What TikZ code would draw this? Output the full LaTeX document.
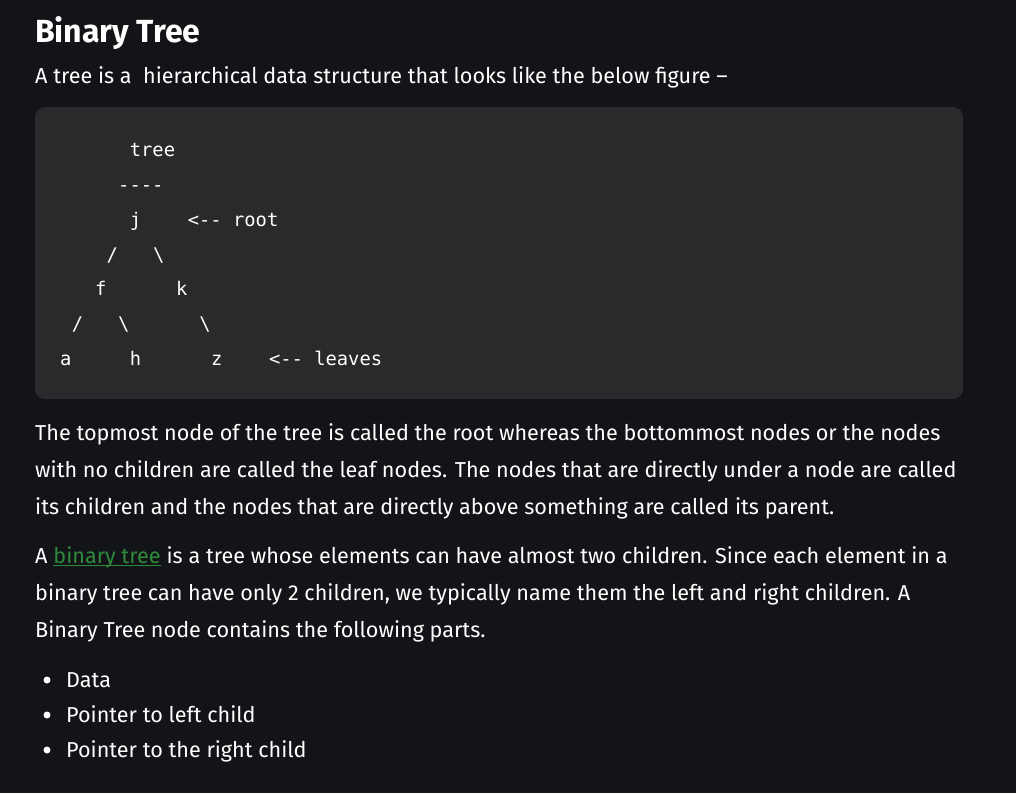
\documentclass[tikz,border=0pt]{standalone}
\usepackage{fontspec}
\setmainfont{Fira Sans}
\newfontfamily\codefont{DejaVu Sans Mono}
\definecolor{pagebg}{HTML}{131417}
\definecolor{codebg}{HTML}{2A2A2D}
\definecolor{linkgreen}{HTML}{2E8B3E}
\newcommand{\colx}[1]{60+11.6*#1}
\tikzset{
  line/.style={anchor=base west, inner sep=0pt, text=white,
    font=\fontsize{21.6}{26}\selectfont},
  code/.style={anchor=base west, inner sep=0pt, text=white,
    font=\codefont\fontsize{18.8}{22}\selectfont},
  bullet/.style={fill=white, circle, inner sep=0pt, minimum size=7pt},
}
\begin{document}
\begin{tikzpicture}[x=1pt, y=-1pt]
\fill[pagebg] (0,0) rectangle (1016,793);
\useasboundingbox (0,0) rectangle (1016,793);

\node[line, font=\bfseries\fontsize{32}{38}\selectfont] (title) at (35,42) {Binary Tree};
\node[line] (lead) at (35,83) {A tree is a \ hierarchical data structure that looks like the below figure –};

% the ascii tree
\fill[codebg, rounded corners=10pt] (35,107) rectangle (963,399);
\node[code] (treeword) at ({\colx{6}},156) {tree};
\node[code] (rule) at ({\colx{5}},191) {----};
\node[code] (j) at ({\colx{6}},226) {j};
\node[code] (rootnote) at ({\colx{11}},226) {<-- root};
\node[code] (jl) at ({\colx{4}},261) {/};
\node[code] (jr) at ({\colx{8}},261) {\textbackslash};
\node[code] (f) at ({\colx{3}},295) {f};
\node[code] (k) at ({\colx{10}},295) {k};
\node[code] (fl) at ({\colx{1}},330) {/};
\node[code] (fr) at ({\colx{5}},330) {\textbackslash};
\node[code] (kr) at ({\colx{12}},330) {\textbackslash};
\node[code] (a) at ({\colx{0}},365) {a};
\node[code] (h) at ({\colx{6}},365) {h};
\node[code] (z) at ({\colx{13}},365) {z};
\node[code] (leafnote) at ({\colx{18}},365) {<-- leaves};

% first paragraph
\node[line] (p1a) at (35,440) {The topmost node of the tree is called the root whereas the bottommost nodes or the nodes};
\node[line] (p1b) at (35,477) {with no children are called the leaf nodes. The nodes that are directly under a node are called};
\node[line] (p1c) at (35,514) {its children and the nodes that are directly above something are called its parent.};

% second paragraph
\node[line] (p2A) at (35,563) {A};
\node[line, text=linkgreen] (link) at ([xshift=5.5pt]p2A.base east) {binary tree};
\node[line] (p2a) at (link.base east) {\ is a tree whose elements can have almost two children. Since each element in a};
\draw[linkgreen, line width=1.2pt] ([yshift=-2.5pt]link.base west) -- ([yshift=-2.5pt]link.base east);
\node[line] (p2b) at (35,600) {binary tree can have only 2 children, we typically name them the left and right children. A};
\node[line] (p2c) at (35,637) {Binary Tree node contains the following parts.};

% list
\node[bullet] (b1) at (47,680) {};
\node[line] (i1) at (66,687) {Data};
\node[bullet] (b2) at (47,715) {};
\node[line] (i2) at (66,722) {Pointer to left child};
\node[bullet] (b3) at (47,750) {};
\node[line] (i3) at (66,757) {Pointer to the right child};
\end{tikzpicture}
\end{document}
